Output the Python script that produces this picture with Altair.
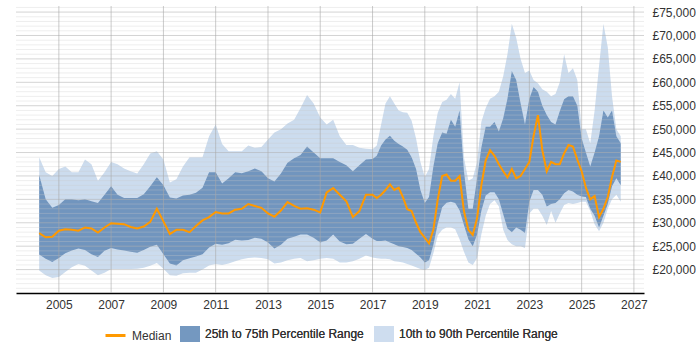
import altair as alt
import pandas as pd

# Sample dates: quarterly to 2016, every two months from 2017
dates = [
    "2004-04-01", "2004-07-01", "2004-10-01",
    "2005-01-01", "2005-04-01", "2005-07-01", "2005-10-01",
    "2006-01-01", "2006-04-01", "2006-07-01", "2006-10-01",
    "2007-01-01", "2007-04-01", "2007-07-01", "2007-10-01",
    "2008-01-01", "2008-04-01", "2008-07-01", "2008-10-01",
    "2009-01-01", "2009-04-01", "2009-07-01", "2009-10-01",
    "2010-01-01", "2010-04-01", "2010-07-01", "2010-10-01",
    "2011-01-01", "2011-04-01", "2011-07-01", "2011-10-01",
    "2012-01-01", "2012-04-01", "2012-07-01", "2012-10-01",
    "2013-01-01", "2013-04-01", "2013-07-01", "2013-10-01",
    "2014-01-01", "2014-04-01", "2014-07-01", "2014-10-01",
    "2015-01-01", "2015-04-01", "2015-07-01", "2015-10-01",
    "2016-01-01", "2016-04-01", "2016-07-01", "2016-10-01",
    "2017-01-01", "2017-03-01", "2017-05-01", "2017-07-01", "2017-09-01", "2017-11-01",
    "2018-01-01", "2018-03-01", "2018-05-01", "2018-07-01", "2018-09-01", "2018-11-01",
    "2019-01-01", "2019-03-01", "2019-05-01", "2019-07-01", "2019-09-01", "2019-11-01",
    "2020-01-01", "2020-03-01", "2020-05-01", "2020-07-01", "2020-09-01", "2020-11-01",
    "2021-01-01", "2021-03-01", "2021-05-01", "2021-07-01", "2021-09-01", "2021-11-01",
    "2022-01-01", "2022-03-01", "2022-05-01", "2022-07-01", "2022-09-01", "2022-11-01",
    "2023-01-01", "2023-03-01", "2023-05-01", "2023-07-01", "2023-09-01", "2023-11-01",
    "2024-01-01", "2024-03-01", "2024-05-01", "2024-07-01", "2024-09-01", "2024-11-01",
    "2025-01-01", "2025-03-01", "2025-05-01", "2025-07-01", "2025-09-01", "2025-11-01",
    "2026-01-01", "2026-03-01", "2026-05-01", "2026-07-01",
]

# Salary percentiles, in thousands of pounds
p90 = [
    44.0, 40.8, 40.0,
    41.5, 42.0, 40.8, 40.8,
    43.5, 42.5, 39.0, 40.8,
    43.0, 42.5, 41.6, 41.0,
    40.5, 42.5, 44.8, 45.3,
    43.5, 38.6, 39.3, 42.0,
    44.0, 44.0, 44.0, 48.5,
    51.0, 46.8, 45.3, 45.3,
    45.3, 46.5, 46.0, 46.2,
    47.8, 49.3, 50.0, 51.2,
    52.0, 54.5, 57.3, 55.5,
    52.5, 51.0, 52.0, 48.5,
    46.6, 46.6, 46.0, 45.8,
    45.7, 46.5, 51.0, 55.5, 57.0, 55.5,
    54.0, 53.6, 53.5, 51.8, 48.0, 43.0,
    39.8, 41.5, 48.5, 53.5, 55.8, 56.3,
    57.5, 56.5, 60.0, 44.0, 39.0, 39.5,
    43.0, 51.5, 54.5, 56.5, 57.0, 58.0,
    61.3, 66.0, 72.5, 69.5, 65.0, 62.0,
    62.5, 60.5, 59.8, 58.5, 58.0, 57.0,
    57.5, 60.0, 66.0, 62.0, 63.0, 60.5,
    50.0, 50.0, 47.0, 54.0, 63.5, 72.5,
    67.5, 57.0, 50.0, 48.5,
]
p75 = [
    40.2, 35.0, 33.2,
    33.8, 35.0, 35.0, 34.8,
    35.0, 34.6, 34.2, 36.0,
    37.8, 36.0, 35.3, 35.3,
    35.3, 36.1, 37.8, 39.7,
    38.0, 35.4, 35.2, 35.8,
    36.0, 36.4, 37.5, 40.8,
    40.8, 38.4, 39.5, 40.8,
    40.6, 41.0, 41.6, 41.0,
    39.5, 38.8, 40.5, 42.8,
    43.8, 44.5, 46.3, 45.0,
    43.8, 43.8, 43.8, 43.0,
    42.3, 41.0, 42.3, 43.5,
    43.6, 44.3, 46.5, 47.8, 48.6, 47.5,
    46.8, 46.3, 45.6, 44.0, 41.5, 37.0,
    34.2, 35.5, 42.0, 47.0, 49.3, 49.0,
    52.0, 50.5, 54.0, 41.0, 33.0, 33.0,
    39.5, 46.0, 50.5, 50.5, 51.5, 49.5,
    52.3, 56.5, 62.4, 60.5, 55.5, 51.0,
    56.5, 59.0, 58.0, 55.0, 53.0, 51.5,
    51.0, 53.8, 56.4, 57.0, 57.0, 55.0,
    48.0, 45.0, 42.0, 45.0, 48.5, 54.0,
    52.5, 54.0, 48.5, 47.0,
]
p50 = [
    27.8, 26.9, 27.0,
    28.3, 28.6, 28.5, 28.3,
    29.0, 28.8, 27.9, 29.0,
    29.9, 29.8, 29.7, 29.1,
    28.8, 29.2, 30.2, 33.0,
    30.3, 27.6, 28.5, 28.5,
    28.0, 29.3, 30.5, 31.2,
    32.3, 32.0, 32.0, 32.8,
    33.0, 34.0, 33.6, 33.2,
    32.0, 31.3, 32.6, 34.4,
    33.6, 33.0, 33.1, 32.8,
    32.2, 36.5, 37.4, 36.0,
    34.6, 31.2, 32.5, 36.0,
    36.0, 35.3, 36.0, 37.0, 38.2, 37.0,
    37.5, 35.5, 32.9, 32.5, 30.0, 28.0,
    26.8, 25.6, 28.5, 35.0, 40.0, 40.3,
    39.0, 39.0, 40.0, 32.5, 28.5, 27.4,
    31.0, 38.0, 43.3, 45.5, 44.3, 42.5,
    41.0, 39.7, 41.5, 39.5, 40.0, 41.5,
    43.0, 48.5, 53.0, 45.5, 41.0, 43.0,
    42.5, 42.5, 44.8, 46.6, 46.3, 43.5,
    41.0, 37.5, 35.0, 35.7, 31.2, 33.0,
    35.5, 39.8, 43.3, 43.0,
]
p25 = [
    23.2, 22.3, 21.6,
    22.5, 23.5, 24.1, 24.5,
    24.2, 23.3, 22.7, 24.0,
    24.6, 24.3, 24.1, 23.8,
    23.6, 24.2, 24.9, 25.3,
    23.3, 21.3, 20.9, 22.0,
    22.4, 22.8, 23.3, 24.7,
    25.5, 25.3, 25.6, 26.4,
    26.2, 26.3, 26.8, 26.6,
    25.8, 24.5, 25.3, 26.6,
    27.0, 27.5, 27.5, 26.8,
    25.8, 26.2, 27.5, 26.0,
    25.4, 25.5, 26.6, 27.6,
    26.6, 26.1, 26.1, 26.2, 25.8, 25.4,
    25.0, 24.8, 24.6, 24.2, 23.4, 22.6,
    21.5, 22.0, 25.3, 29.8, 33.3, 34.3,
    34.5, 34.2, 32.7, 29.5, 26.5, 25.0,
    27.5, 32.5, 35.8, 36.5, 36.5, 35.0,
    31.8, 28.8, 28.0, 29.0, 28.5, 27.8,
    34.5, 37.0, 37.0, 36.0, 33.5, 34.0,
    34.2, 35.0, 36.3, 37.0, 36.7, 36.0,
    35.6, 35.5, 33.0, 31.5, 29.0, 31.5,
    34.0, 37.8, 39.5, 38.0,
]
p10 = [
    19.8, 18.8, 18.2,
    18.4, 19.5, 20.5, 21.2,
    20.8, 19.8, 18.8, 19.3,
    20.1, 20.1, 20.1, 20.1,
    20.2, 20.4, 20.8, 21.4,
    20.2, 18.8, 18.7, 19.2,
    19.3, 19.3, 20.0, 20.9,
    21.2, 21.0, 21.3, 21.8,
    22.2, 22.5, 22.6, 22.5,
    22.2, 21.3, 21.5, 22.0,
    22.3, 22.5, 21.8, 22.0,
    22.3, 22.5, 22.3, 21.5,
    21.5, 21.8, 22.3, 23.0,
    22.6, 22.4, 22.3, 22.3, 22.2, 21.8,
    21.7, 21.5, 21.2, 20.9, 20.5, 20.1,
    19.9, 20.4, 23.5, 27.3, 28.5, 29.0,
    29.0, 28.6, 26.5, 23.8, 21.5, 21.0,
    22.5, 27.5, 31.5, 34.0, 34.8, 33.5,
    28.5, 26.3, 25.4, 25.0, 25.0, 24.6,
    32.0, 33.0, 33.0, 31.5, 29.5, 32.5,
    30.0, 32.0, 33.8, 34.2, 34.0, 34.2,
    34.5, 34.5, 32.5, 29.7, 28.2, 30.0,
    33.0, 35.0, 36.0, 34.5,
]

MEDIAN = "Median"
MID = "25th to 75th Percentile Range"
WIDE = "10th to 90th Percentile Range"

ORANGE = "#FF9900"
DARK = "#7195BE"
LIGHT = "#CCDCEE"
FONT = "Liberation Sans"
TEXT = "#333333"

df = pd.DataFrame({
    "date": dates,
    "p10": [v * 1000 for v in p10],
    "p25": [v * 1000 for v in p25],
    "p50": [v * 1000 for v in p50],
    "p75": [v * 1000 for v in p75],
    "p90": [v * 1000 for v in p90],
})

grid_years = [2005, 2007, 2009, 2011, 2013, 2015, 2017, 2019, 2021, 2023, 2025, 2027]
y_major = [20000, 25000, 30000, 35000, 40000, 45000, 50000, 55000, 60000, 65000, 70000, 75000]
y_minor = [v for v in range(16000, 77000, 1000) if v % 5000 != 0]

xs = alt.Scale(domain=[alt.DateTime(year=2003, month=5, date=13),
                       alt.DateTime(year=2027, month=5, date=22)])
ys = alt.Scale(domain=[15000, 76300], nice=False, zero=False)

x_axis = alt.Axis(
    title=None, format="%Y", grid=False, ticks=False,
    values=[alt.DateTime(year=y, month=1, date=1) for y in grid_years],
    domainColor="#000000", domainWidth=1.5, labelPadding=6,
    labelFont=FONT, labelFontSize=12, labelColor=TEXT,
)
y_axis = alt.Axis(
    title=None, orient="right", grid=False, ticks=False, domain=False,
    values=y_major, labelExpr="'£' + format(datum.value, ',')",
    labelPadding=8, labelFont=FONT, labelFontSize=12, labelColor=TEXT,
)

X = alt.X("date:T", scale=xs, axis=x_axis)

area_legend = alt.Legend(
    title=None, orient="none", legendX=164, legendY=318, direction="horizontal",
    symbolType="M-1,-0.8H1V0.8H-1Z", symbolSize=400, symbolStrokeWidth=0,
    symbolOpacity=0.85, labelOffset=5, columnPadding=10, padding=0,
    labelFont=FONT, labelFontSize=12, labelColor=TEXT,
)
line_legend = alt.Legend(
    title=None, orient="none", legendX=88, legendY=318,
    symbolType="stroke", symbolSize=400, symbolStrokeWidth=3,
    labelOffset=5, padding=0,
    labelFont=FONT, labelFontSize=12, labelColor=TEXT,
)
band_fill = alt.Scale(domain=[MID, WIDE], range=[DARK, LIGHT])

wide_band = alt.Chart(df).transform_calculate(band=f"'{WIDE}'").mark_area().encode(
    x=X,
    y=alt.Y("p10:Q", scale=ys, axis=y_axis),
    y2="p90:Q",
    fill=alt.Fill("band:N", scale=band_fill, legend=area_legend),
)
mid_band = alt.Chart(df).transform_calculate(band=f"'{MID}'").mark_area().encode(
    x=X,
    y=alt.Y("p25:Q", scale=ys, axis=y_axis),
    y2="p75:Q",
    fill=alt.Fill("band:N", scale=band_fill, legend=area_legend),
)

minor_grid = alt.Chart(pd.DataFrame({"v": y_minor})).mark_rule(
    color="#c8c8c8", opacity=0.32, strokeWidth=1
).encode(
    y=alt.Y("v:Q", scale=ys, axis=y_axis),
    x=alt.value(0), x2=alt.value("width"),
)
major_grid = alt.Chart(pd.DataFrame({"v": y_major})).mark_rule(
    color="#b0b0b0", opacity=0.55, strokeWidth=1
).encode(
    y=alt.Y("v:Q", scale=ys, axis=y_axis),
    x=alt.value(0), x2=alt.value("width"),
)
year_grid = alt.Chart(pd.DataFrame({"yr": [f"{y}-01-01" for y in grid_years]})).mark_rule(
    color="#a8a8a8", opacity=0.6, strokeWidth=1
).encode(
    x=alt.X("yr:T", scale=xs, axis=x_axis),
    y=alt.value(0), y2=alt.value("height"),
)

median_line = alt.Chart(df).transform_calculate(series=f"'{MEDIAN}'").mark_line(
    strokeWidth=2
).encode(
    x=X,
    y=alt.Y("p50:Q", scale=ys, axis=y_axis),
    stroke=alt.Stroke("series:N", scale=alt.Scale(domain=[MEDIAN], range=[ORANGE]),
                      legend=line_legend),
)

chart = alt.layer(
    wide_band, mid_band, minor_grid, major_grid, year_grid, median_line
).resolve_scale(
    fill="independent", stroke="independent"
).properties(
    width=628, height=287,
    padding={"left": 15, "top": 5, "right": 0, "bottom": 0},
).configure_view(stroke=None)

chart.save("out.html", embed_options={"renderer": "svg", "actions": False})
